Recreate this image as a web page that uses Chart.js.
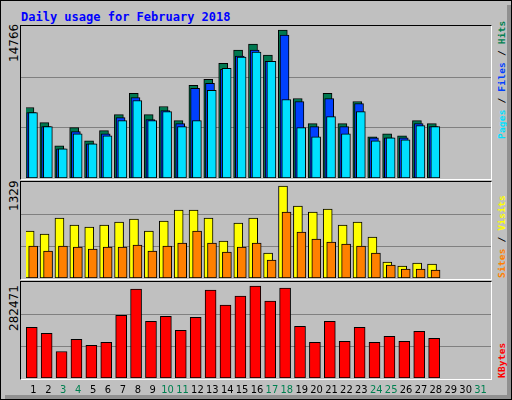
<!DOCTYPE html>
<html><head><meta charset="utf-8">
<script src="https://cdn.jsdelivr.net/npm/chart.js@4"></script>
<style>
body{margin:0;background:#fff}
#wrap{position:absolute;left:0;top:0;width:510px;height:398px;background:#c0c0c0;border:1px solid #000;overflow:hidden}
#wrap:after{content:"";position:absolute;right:0;top:4px;width:4px;height:100%;background:#909090}
#wrap:before{content:"";position:absolute;left:4px;bottom:0;width:100%;height:4px;background:#909090}
.frame{position:absolute;left:19px;width:470px;border-top:1px solid #000;border-left:1px solid #000;border-right:1px solid #fff;border-bottom:1px solid #fff}
.cv{position:absolute;left:20px;width:470px}
.rot{position:absolute;transform-origin:0 0;transform:rotate(-90deg);white-space:nowrap}
.lab{font:12px "DejaVu Sans";color:#000}
.side{font:bold 9.5px "DejaVu Sans Mono";letter-spacing:0.2px}
#title{position:absolute;left:20px;top:9px;font:bold 12px "DejaVu Sans Mono";color:#0000ff}
</style></head><body>
<div id="wrap">
<div id="title">Daily usage for February 2018</div>
<div class="frame" style="top:24px;height:153px"></div>
<div class="frame" style="top:180px;height:97px"></div>
<div class="frame" style="top:280px;height:97px"></div>
<div class="cv" style="top:25px;height:152px"><canvas id="c1"></canvas></div>
<div class="cv" style="top:181px;height:96px"><canvas id="c2"></canvas></div>
<div class="cv" style="top:281px;height:119px"><canvas id="c3"></canvas></div>
<div class="rot lab" style="left:6px;top:61px">14766</div>
<div class="rot lab" style="left:6px;top:210px">1329</div>
<div class="rot lab" style="left:6px;top:330px">282471</div>
<div class="rot side" style="left:495px;top:138px"><span style="color:#00e0ff">Pages</span> <span style="color:#000">/</span> <span style="color:#0040ff">Files</span> <span style="color:#000">/</span> <span style="color:#008050">Hits</span></div>
<div class="rot side" style="left:495px;top:277px"><span style="color:#ff8000">Sites</span> <span style="color:#000">/</span> <span style="color:#ffff00">Visits</span></div>
<div class="rot side" style="left:495px;top:377px"><span style="color:#ff0000">KBytes</span></div>
</div>
<script>
const days = ["1","2","3","4","5","6","7","8","9","10","11","12","13","14","15","16","17","18","19","20","21","22","23","24","25","26","27","28","29","30","31"];
const weekend = [3,4,10,11,17,18,24,25,31];
const hits  = [6846,5379,3130,4890,3619,4597,6161,8215,6161,6944,5575,8998,9584,11149,12421,13007,11932,14377,7726,5281,8215,5281,7433,4010,4303,4108,5575,5281];
const files = [6357,4988,2836,4499,3325,4303,5868,7824,5672,6553,5281,8704,9193,10562,11834,12421,11345,13888,7433,4988,7726,4988,7237,3912,3912,3912,5281,4988];
const pages = [6357,4988,2836,4303,3325,4108,5575,7531,5575,6455,4988,5575,8509,10660,11736,12225,11345,7628,4890,4010,5966,4303,6455,3619,3912,3716,5086,4988];
const visits= [651,609,831,734,706,734,775,817,651,789,941,941,831,512,761,831,346,1274,997,914,955,734,775,568,222,166,208,194];
const sites = [443,374,443,429,402,429,429,457,374,443,485,651,485,360,429,485,249,914,637,540,498,471,443,346,180,125,125,111];
const kbytes= [149143,131364,78028,113586,95807,104696,184700,261741,166921,181737,140253,178774,258777,214331,240999,270630,226183,264704,152106,104696,166921,107659,149143,104696,122475,107659,137290,116549];
const maxTop=14766, maxMid=1329, maxBot=282471;

const shiftPlugin={id:'shift',afterDatasetsUpdate(ch){ch.data.datasets.forEach((ds,i)=>{ch.getDatasetMeta(i).data.forEach(e=>{e.x+=ds.shift||0;});});}};
const gridPlugin={id:'grid3',beforeDatasetsDraw(ch){const y=ch.scales.y,c=ch.ctx;c.save();c.strokeStyle='#808080';c.lineWidth=1;[1,2].forEach(k=>{const p=Math.round(y.getPixelForValue(y.max*k/3))+0.5;c.beginPath();c.moveTo(0,p);c.lineTo(ch.width,p);c.stroke();});c.restore();}};
const labelPlugin={id:'xl',afterDraw(ch){if(!ch.options.plugins.xl)return;const x=ch.scales.x,c=ch.ctx;c.save();c.font='11px "DejaVu Sans Condensed", "Liberation Sans Narrow", "DejaVu Sans"';c.textAlign='center';c.textBaseline='middle';days.forEach((d,i)=>{c.fillStyle=weekend.includes(+d)?'#008050':'#000';c.fillText(d,x.getPixelForValue(i),ch.chartArea.bottom+12);});c.restore();}};

function ds(label,data,color,shift,order,th){return {label,data,backgroundColor:color,borderColor:'#000',borderWidth:1,borderSkipped:false,grouped:false,barThickness:th,shift,order};}
function make(id,sets,max,bottomPad,xl){
 return new Chart(document.getElementById(id),{type:'bar',data:{labels:days,datasets:sets},
 options:{responsive:true,maintainAspectRatio:false,animation:false,events:[],
  layout:{padding:{left:5,right:3,top:0,bottom:bottomPad}},
  plugins:{legend:{display:false},tooltip:{enabled:false},xl:xl},
  scales:{x:{display:false},y:{display:false,min:0,max:max}}},
 plugins:[shiftPlugin,gridPlugin,labelPlugin]});
}
make('c1',[ds('Hits',hits,'#007850',-4,2,9),ds('Files',files,'#0040ff',-2.3,1,9),ds('Pages',pages,'#00e0ff',-0.5,0,9)],maxTop,0,false);
make('c2',[ds('Visits',visits,'#ffff00',-3.8,1,9),ds('Sites',sites,'#ff8000',-0.3,0,9)],maxMid,0,false);
make('c3',[ds('KBytes',kbytes,'#ff0000',-1.7,0,11)],maxBot,23,true);
</script>
</body></html>
